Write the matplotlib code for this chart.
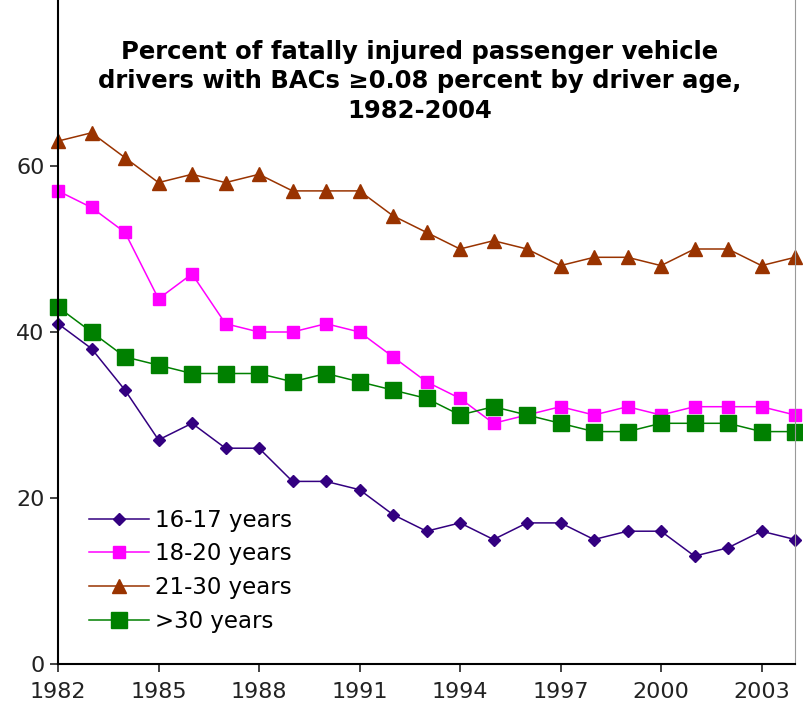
import matplotlib.pyplot as plt

years = list(range(1982, 2005))

age_16_17 = [41, 38, 33, 27, 29, 26, 26, 22, 22, 21, 18, 16, 17, 15, 17, 17, 15, 16, 16, 13, 14, 16, 15]
age_18_20 = [57, 55, 52, 44, 47, 41, 40, 40, 41, 40, 37, 34, 32, 29, 30, 31, 30, 31, 30, 31, 31, 31, 30]
age_21_30 = [63, 64, 61, 58, 59, 58, 59, 57, 57, 57, 54, 52, 50, 51, 50, 48, 49, 49, 48, 50, 50, 48, 49]
age_over_30 = [43, 40, 37, 36, 35, 35, 35, 34, 35, 34, 33, 32, 30, 31, 30, 29, 28, 28, 29, 29, 29, 28, 28]

labels = ['16-17 years', '18-20 years', '21-30 years', '>30 years']
x_ticks = [1982, 1985, 1988, 1991, 1994, 1997, 2000, 2003]
y_ticks = [0, 20, 40, 60]

plt.rcParams['font.family'] = ['DejaVu Sans']

fig = plt.figure(figsize=(8.04, 7.10), dpi=100)
ax = fig.add_axes([58 / 804, 1 - 664 / 710, (795 - 58) / 804, 664 / 710])

ax.plot(years, age_16_17, color='#330080', marker='D', ms=6.5, lw=1.1, label=labels[0], clip_on=False)
ax.plot(years, age_18_20, color='#FF00FF', marker='s', ms=8, lw=1.1, label=labels[1], clip_on=False)
ax.plot(years, age_21_30, color='#993300', marker='^', ms=10, lw=1.1, label=labels[2], clip_on=False)
ax.plot(years, age_over_30, color='#008000', marker='s', ms=12, lw=1.1, label=labels[3], clip_on=False)

ax.set_xlim(1982, 2004)
ax.set_ylim(0, 80)
ax.set_xticks(x_ticks)
ax.set_yticks(y_ticks)
ax.tick_params(labelsize=16, length=6, width=1.2, colors='#222222')
ax.tick_params(axis='x', pad=7)

ax.spines['top'].set_visible(False)
ax.spines['right'].set_color('#999999')
ax.spines['left'].set_linewidth(1.5)
ax.spines['bottom'].set_linewidth(1.5)

ax.legend(loc='lower left', bbox_to_anchor=(0.03, 0.033), frameon=False, fontsize=16.5,
          handlelength=2.6, labelspacing=0.47, handletextpad=0.25, borderaxespad=0)

fig.text(0.522, 0.944, 'Percent of fatally injured passenger vehicle\n'
         'drivers with BACs \u22650.08 percent by driver age,\n1982-2004',
         ha='center', va='top', fontsize=17.5, fontweight='bold', linespacing=1.3)

fig.savefig('out.png', dpi=100)
